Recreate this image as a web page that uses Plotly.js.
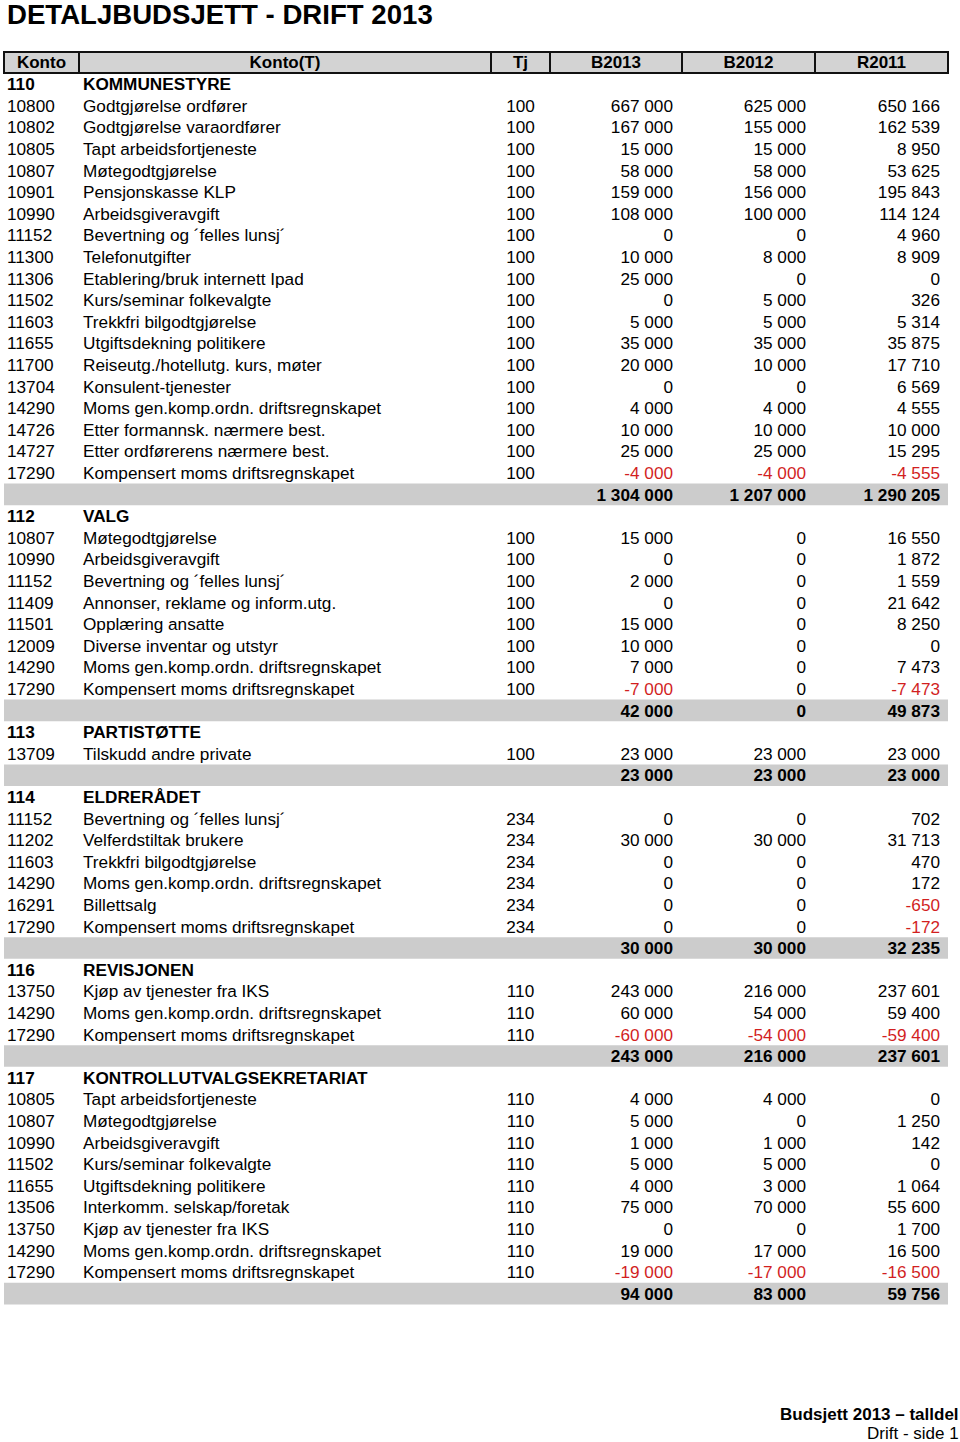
<!DOCTYPE html>
<html>
<head>
<meta charset="utf-8">
<script src="https://cdn.plot.ly/plotly-3.0.1.min.js"></script>
<style>html,body{margin:0;padding:0;background:#fff;}#chart{width:960px;height:1442px;}</style>
</head>
<body>
<div id="chart"></div>
<script>
// Row type: g = group heading, i = item, t = total
const rowType = ['g','i','i','i','i','i','i','i','i','i','i','i','i','i','i','i','i','i','i','t',
  'g','i','i','i','i','i','i','i','i','t',
  'g','i','t',
  'g','i','i','i','i','i','i','t',
  'g','i','i','i','t',
  'g','i','i','i','i','i','i','i','i','i','t'];
const konto = ['110','10800','10802','10805','10807','10901','10990','11152','11300','11306','11502','11603','11655','11700','13704','14290','14726','14727','17290','',
  '112','10807','10990','11152','11409','11501','12009','14290','17290','',
  '113','13709','',
  '114','11152','11202','11603','14290','16291','17290','',
  '116','13750','14290','17290','',
  '117','10805','10807','10990','11502','11655','13506','13750','14290','17290',''];
const kontoT = ['KOMMUNESTYRE','Godtgjørelse ordfører','Godtgjørelse varaordfører','Tapt arbeidsfortjeneste','Møtegodtgjørelse','Pensjonskasse KLP','Arbeidsgiveravgift','Bevertning og ´felles lunsj´','Telefonutgifter','Etablering/bruk internett Ipad','Kurs/seminar folkevalgte','Trekkfri bilgodtgjørelse','Utgiftsdekning politikere','Reiseutg./hotellutg. kurs, møter','Konsulent-tjenester','Moms gen.komp.ordn. driftsregnskapet','Etter formannsk. nærmere best.','Etter ordførerens nærmere best.','Kompensert moms driftsregnskapet','',
  'VALG','Møtegodtgjørelse','Arbeidsgiveravgift','Bevertning og ´felles lunsj´','Annonser, reklame og inform.utg.','Opplæring ansatte','Diverse inventar og utstyr','Moms gen.komp.ordn. driftsregnskapet','Kompensert moms driftsregnskapet','',
  'PARTISTØTTE','Tilskudd andre private','',
  'ELDRERÅDET','Bevertning og ´felles lunsj´','Velferdstiltak brukere','Trekkfri bilgodtgjørelse','Moms gen.komp.ordn. driftsregnskapet','Billettsalg','Kompensert moms driftsregnskapet','',
  'REVISJONEN','Kjøp av tjenester fra IKS','Moms gen.komp.ordn. driftsregnskapet','Kompensert moms driftsregnskapet','',
  'KONTROLLUTVALGSEKRETARIAT','Tapt arbeidsfortjeneste','Møtegodtgjørelse','Arbeidsgiveravgift','Kurs/seminar folkevalgte','Utgiftsdekning politikere','Interkomm. selskap/foretak','Kjøp av tjenester fra IKS','Moms gen.komp.ordn. driftsregnskapet','Kompensert moms driftsregnskapet',''];
const tj = ['','100','100','100','100','100','100','100','100','100','100','100','100','100','100','100','100','100','100','',
  '','100','100','100','100','100','100','100','100','',
  '','100','',
  '','234','234','234','234','234','234','',
  '','110','110','110','',
  '','110','110','110','110','110','110','110','110','110',''];
const b2013 = [null,667000,167000,15000,58000,159000,108000,0,10000,25000,0,5000,35000,20000,0,4000,10000,25000,-4000,1304000,
  null,15000,0,2000,0,15000,10000,7000,-7000,42000,
  null,23000,23000,
  null,0,30000,0,0,0,0,30000,
  null,243000,60000,-60000,243000,
  null,4000,5000,1000,5000,4000,75000,0,19000,-19000,94000];
const b2012 = [null,625000,155000,15000,58000,156000,100000,0,8000,0,5000,5000,35000,10000,0,4000,10000,25000,-4000,1207000,
  null,0,0,0,0,0,0,0,0,0,
  null,23000,23000,
  null,0,30000,0,0,0,0,30000,
  null,216000,54000,-54000,216000,
  null,4000,0,1000,5000,3000,70000,0,17000,-17000,83000];
const r2011 = [null,650166,162539,8950,53625,195843,114124,4960,8909,0,326,5314,35875,17710,6569,4555,10000,15295,-4555,1290205,
  null,16550,1872,1559,21642,8250,0,7473,-7473,49873,
  null,23000,23000,
  null,702,31713,470,172,-650,-172,32235,
  null,237601,59400,-59400,237601,
  null,0,1250,142,0,1064,55600,1700,16500,-16500,59756];
const headers = ['Konto','Konto(T)','Tj','B2013','B2012','R2011'];
const docTitle = 'DETALJBUDSJETT - DRIFT 2013';
const footer1 = 'Budsjett 2013 – talldel';
const footer2 = 'Drift - side 1';

// ---- layout constants (pixel geometry) ----
const W = 960, H = 1442;
const ROW0 = 84, PITCH = 21.6;           // pixel centre of first body row, row pitch
const TEXT_DY = 2 / PITCH;               // small downward nudge of text inside rows
const FONT = 'Liberation Sans, Arial, Helvetica, sans-serif';
const FS = 17.2;
const RED = '#d21f1f';
const GRAY = '#cccccc';
const HEAD_GRAY = '#d3d3d3';
const colEdges = [4, 79, 491, 550, 682, 815, 948];
const textX = [7, 83, 520.5, 673, 806, 940];
const textPos = ['middle right', 'middle right', 'middle center', 'middle left', 'middle left', 'middle left'];

function fmt(v) {
  if (v === null || v === undefined) return '';
  const neg = v < 0;
  const s = String(Math.abs(v)).replace(/\B(?=(\d{3})+(?!\d))/g, ' ');
  return (neg ? '-' : '') + s;
}
function bold(s, on) { return (on && s !== '') ? '<b>' + s + '</b>' : s; }

const rows = rowType.map((_, i) => i);
const columns = [
  konto.map((s, i) => bold(s, rowType[i] === 'g')),
  kontoT.map((s, i) => bold(s, rowType[i] === 'g')),
  tj,
  b2013.map((v, i) => bold(fmt(v), rowType[i] === 't')),
  b2012.map((v, i) => bold(fmt(v), rowType[i] === 't')),
  r2011.map((v, i) => bold(fmt(v), rowType[i] === 't'))
];
const colorOf = (arr) => arr.map(v => (v !== null && v < 0) ? RED : '#000');
const colors = [null, null, null, colorOf(b2013), colorOf(b2012), colorOf(r2011)];

const traces = columns.map((vals, c) => ({
  type: 'scatter', mode: 'text',
  x: rows.map(() => textX[c]), y: rows.map(r => r + TEXT_DY),
  text: vals, textposition: textPos[c],
  textfont: {family: FONT, size: FS, color: colors[c] || '#000'},
  hoverinfo: 'skip', cliponaxis: false, showlegend: false
}));

// header labels (row -1)
traces.push({
  type: 'scatter', mode: 'text',
  x: headers.map((_, c) => (colEdges[c] + colEdges[c + 1]) / 2),
  y: headers.map(() => -1 + 1.5 / PITCH),
  text: headers.map(h => '<b>' + h + '</b>'),
  textposition: 'middle center',
  textfont: {family: FONT, size: 17, color: '#000'},
  hoverinfo: 'skip', cliponaxis: false, showlegend: false
});

const shapes = [];
// gray total bands
rowType.forEach((t, i) => {
  if (t === 't') shapes.push({type: 'rect', xref: 'x', yref: 'y', x0: 4, x1: 948, y0: i - 0.5, y1: i + 0.5,
    fillcolor: GRAY, line: {width: 0}, layer: 'below'});
});
// header box
const hTop = -1.48, hBot = -0.51;
shapes.push({type: 'rect', xref: 'x', yref: 'y', x0: colEdges[0], x1: colEdges[6], y0: hTop, y1: hBot,
  fillcolor: HEAD_GRAY, line: {color: '#111', width: 2}, layer: 'below'});
for (let c = 1; c < 6; c++) {
  shapes.push({type: 'line', xref: 'x', yref: 'y', x0: colEdges[c], x1: colEdges[c], y0: hTop, y1: hBot,
    line: {color: '#111', width: 2}, layer: 'below'});
}

const yTop = -ROW0 / PITCH, yBot = (H - ROW0) / PITCH;
const layout = {
  width: W, height: H,
  margin: {l: 0, r: 0, t: 0, b: 0},
  paper_bgcolor: '#fff', plot_bgcolor: '#fff',
  showlegend: false,
  xaxis: {range: [0, W], visible: false, fixedrange: true},
  yaxis: {range: [yBot, yTop], visible: false, fixedrange: true},
  shapes: shapes,
  annotations: [
    {text: docTitle, xref: 'paper', yref: 'paper', x: 6 / W, y: 1 - 15 / H, xanchor: 'left', yanchor: 'middle',
     showarrow: false, borderpad: 0, font: {family: FONT, size: 27.6, weight: 'bold', color: '#000'}},
    {text: footer1, xref: 'paper', yref: 'paper', x: 1, y: 1 - 1414 / H, xanchor: 'right', yanchor: 'middle',
     showarrow: false, borderpad: 0, font: {family: FONT, size: 17, weight: 'bold', color: '#000'}},
    {text: footer2, xref: 'paper', yref: 'paper', x: 1, y: 1 - 1433 / H, xanchor: 'right', yanchor: 'middle',
     showarrow: false, borderpad: 0, font: {family: FONT, size: 17, color: '#000'}}
  ]
};

Plotly.newPlot('chart', traces, layout, {displayModeBar: false, staticPlot: true});
</script>
</body>
</html>
